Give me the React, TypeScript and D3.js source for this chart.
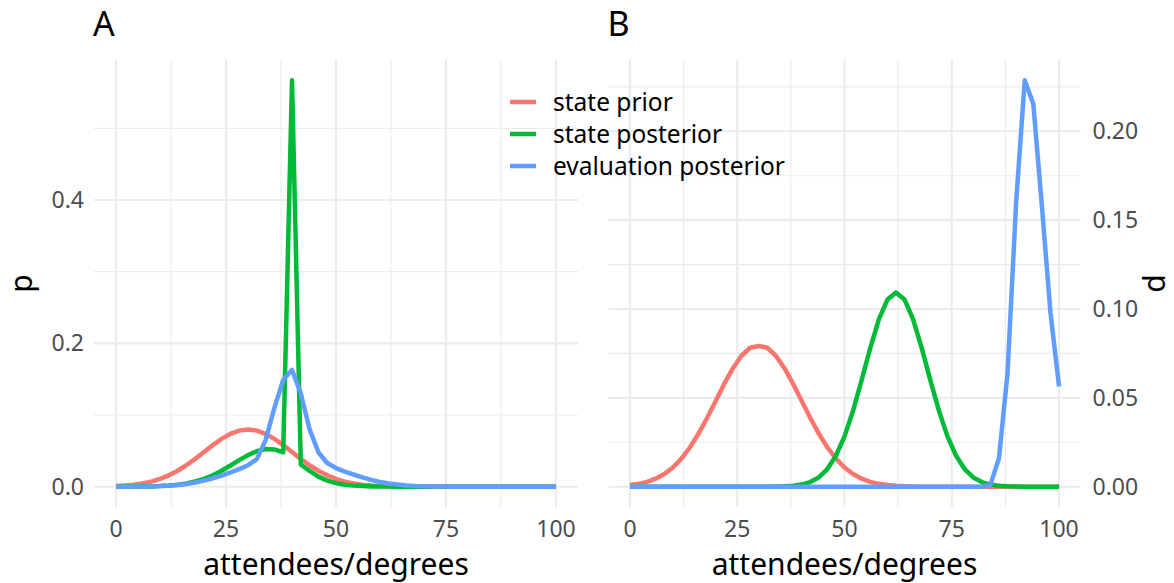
import React from 'react';
import * as d3 from 'd3';

// x grid shared by every series (attendees / degrees)
const xs = d3.range(0, 101, 2);

// panel A: p
const statePriorA = [
  0.0009, 0.0016, 0.0027, 0.0045, 0.0071, 0.0108, 0.0158, 0.0222, 0.0299, 0.0388,
  0.0484, 0.0580, 0.0667, 0.0737, 0.0782, 0.0798, 0.0782, 0.0737, 0.0667, 0.0580,
  0.0484, 0.0388, 0.0299, 0.0222, 0.0158, 0.0108, 0.0071, 0.0045, 0.0027, 0.0016,
  0.0009, 0.0005, 0.0003, 0.0001, 0, 0, 0, 0, 0, 0,
  0, 0, 0, 0, 0, 0, 0, 0, 0, 0, 0,
];
const statePostA = [
  0, 0, 0.0001, 0.0002, 0.0004, 0.0008, 0.0015, 0.0027, 0.0045, 0.0072,
  0.0110, 0.0160, 0.0222, 0.0295, 0.0370, 0.0440, 0.0495, 0.0525, 0.0520, 0.0480,
  0.567, 0.0310, 0.0220, 0.0140, 0.0085, 0.0050, 0.0028, 0.0015, 0.0008, 0.0004,
  0.0002, 0.0001, 0, 0, 0, 0, 0, 0, 0, 0,
  0, 0, 0, 0, 0, 0, 0, 0, 0, 0, 0,
];
const evalPostA = [
  0, 0, 0.0001, 0.0002, 0.0004, 0.0008, 0.0014, 0.0024, 0.0038, 0.0058,
  0.0085, 0.0118, 0.0155, 0.0198, 0.0245, 0.0300, 0.0385, 0.0650, 0.1100, 0.1490,
  0.1630, 0.1300, 0.0800, 0.0480, 0.0330, 0.0260, 0.0210, 0.0170, 0.0130, 0.0095,
  0.0066, 0.0045, 0.0029, 0.0018, 0.0010, 0.0005, 0.0002, 0.0001, 0, 0,
  0, 0, 0, 0, 0, 0, 0, 0, 0, 0, 0,
];

// panel B: d
const statePriorB = [
  0.0009, 0.0016, 0.0027, 0.0045, 0.0071, 0.0108, 0.0158, 0.0222, 0.0299, 0.0388,
  0.0484, 0.0580, 0.0667, 0.0737, 0.0782, 0.0792, 0.0782, 0.0737, 0.0667, 0.0580,
  0.0484, 0.0388, 0.0299, 0.0222, 0.0158, 0.0108, 0.0071, 0.0045, 0.0027, 0.0016,
  0.0009, 0.0005, 0.0003, 0.0001, 0, 0, 0, 0, 0, 0,
  0, 0, 0, 0, 0, 0, 0, 0, 0, 0, 0,
];
const statePostB = [
  0, 0, 0, 0, 0, 0, 0, 0, 0, 0,
  0, 0, 0, 0, 0, 0, 0, 0.0001, 0.0002, 0.0005,
  0.0012, 0.0026, 0.0052, 0.0099, 0.0174, 0.0283, 0.0428, 0.0600, 0.0780, 0.0941,
  0.1053, 0.1093, 0.1053, 0.0941, 0.0780, 0.0600, 0.0428, 0.0283, 0.0174, 0.0099,
  0.0052, 0.0026, 0.0012, 0.0005, 0.0002, 0.0001, 0, 0, 0, 0, 0,
];
const evalPostB = [
  0, 0, 0, 0, 0, 0, 0, 0, 0, 0,
  0, 0, 0, 0, 0, 0, 0, 0, 0, 0,
  0, 0, 0, 0, 0, 0, 0, 0, 0, 0,
  0, 0, 0, 0, 0, 0, 0, 0, 0, 0,
  0, 0, 0.001, 0.016, 0.064, 0.160, 0.2287, 0.2155, 0.158, 0.098, 0.0564,
];

const seriesNames = ['state prior', 'state posterior', 'evaluation posterior'];
const colors = ['#F8766D', '#00BA38', '#619CFF'];
const xTicks = [0, 25, 50, 75, 100];
const pTicks = [0, 0.2, 0.4];
const dTicks = [0, 0.05, 0.1, 0.15, 0.2];

const FONT = '"Noto Sans", "Open Sans", sans-serif';
const TOP = 60;
const BOTTOM = 507;
const GRID = '#ebebeb';

type PanelProps = {
  x0: number;
  x1: number;
  series: number[][];
  yTicks: number[];
  fmt: string;
  side: 'left' | 'right';
  yTitle: string;
  tag: string;
  layer: 'grid' | 'marks';
};

function Panel({ x0, x1, series, yTicks, fmt, side, yTitle, tag, layer }: PanelProps) {
  const x = d3.scaleLinear().domain([-5, 105]).range([x0, x1]);
  const ymax = d3.max(series.flat()) as number;
  const pad = ymax * 0.05;
  const y = d3.scaleLinear().domain([-pad, ymax + pad]).range([BOTTOM, TOP]);
  const step = yTicks[1] - yTicks[0];
  const yMinor = d3.range(step / 2, ymax + pad, step);
  const xMinor = [12.5, 37.5, 62.5, 87.5];
  const f = d3.format(fmt);

  const line = d3.line<number>()
    .x((_, i) => x(xs[i]))
    .y((d) => y(d));

  if (layer === 'grid') {
    return (
      <g>
        {yMinor.map((t) => (
          <line key={'ym' + t} x1={x0} x2={x1} y1={y(t)} y2={y(t)} stroke={GRID} strokeWidth={1.1} />
        ))}
        {xMinor.map((t) => (
          <line key={'xm' + t} x1={x(t)} x2={x(t)} y1={TOP} y2={BOTTOM} stroke={GRID} strokeWidth={1.1} />
        ))}
        {yTicks.map((t) => (
          <line key={'y' + t} x1={x0} x2={x1} y1={y(t)} y2={y(t)} stroke={GRID} strokeWidth={2.1} />
        ))}
        {xTicks.map((t) => (
          <line key={'x' + t} x1={x(t)} x2={x(t)} y1={TOP} y2={BOTTOM} stroke={GRID} strokeWidth={2.1} />
        ))}
      </g>
    );
  }

  const midY = (TOP + BOTTOM) / 2;
  const titleX = side === 'left' ? x0 - 73 : x1 + 74;

  return (
    <g fontFamily={FONT}>
      {series.map((s, k) => (
        <path key={k} d={line(s) ?? ''} fill="none" stroke={colors[k]} strokeWidth={4.5} strokeLinejoin="round" />
      ))}
      {xTicks.map((t) => (
        <text key={'xl' + t} x={x(t)} y={537} textAnchor="middle" fontSize={23} fill="#4d4d4d">{t}</text>
      ))}
      {yTicks.map((t) => (
        <text
          key={'yl' + t}
          x={side === 'left' ? x0 - 10 : x1 + 12}
          y={y(t)}
          dy="0.35em"
          textAnchor={side === 'left' ? 'end' : 'start'}
          fontSize={23}
          fill="#4d4d4d"
        >
          {f(t)}
        </text>
      ))}
      <text x={(x0 + x1) / 2} y={575} textAnchor="middle" fontSize={30} fill="#000">attendees/degrees</text>
      <text transform={`translate(${titleX},${midY}) rotate(-90)`} dy="0.35em" textAnchor="middle" fontSize={30}>{yTitle}</text>
      <text x={x0 - 1} y={36} fontSize={34} fill="#000">{tag}</text>
    </g>
  );
}

export default function App() {
  const panelA = { x0: 94, x1: 578, series: [statePriorA, statePostA, evalPostA], yTicks: pTicks, fmt: '.1f', side: 'left' as const, yTitle: 'p', tag: 'A' };
  const panelB = { x0: 608.5, x1: 1080.5, series: [statePriorB, statePostB, evalPostB], yTicks: dTicks, fmt: '.2f', side: 'right' as const, yTitle: 'd', tag: 'B' };

  return (
    <svg width={1174} height={583} style={{ position: 'absolute', left: 0, top: 0, background: '#fff' }}>
      <Panel {...panelA} layer="grid" />
      <Panel {...panelB} layer="grid" />
      <g fontFamily={FONT}>
        {seriesNames.map((name, k) => (
          <g key={name} transform={`translate(0,${102 + k * 32})`}>
            <line x1={510} x2={536} y1={0} y2={0} stroke={colors[k]} strokeWidth={4.5} />
            <text x={553} y={0} dy="0.35em" fontSize={24.5} fill="#000">{name}</text>
          </g>
        ))}
      </g>
      <Panel {...panelA} layer="marks" />
      <Panel {...panelB} layer="marks" />
    </svg>
  );
}
